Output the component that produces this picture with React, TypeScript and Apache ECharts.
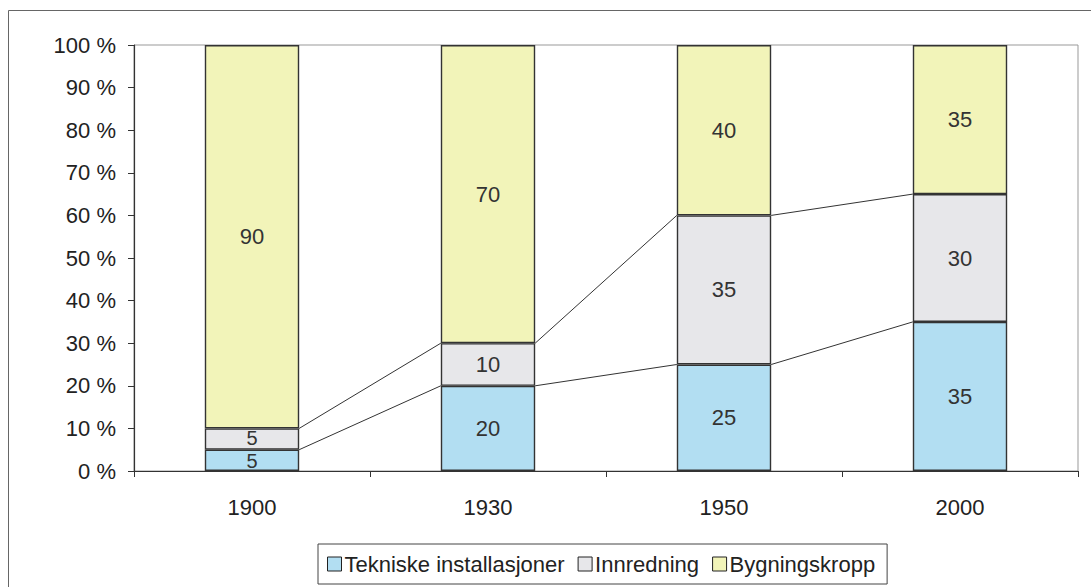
import React, { useEffect, useRef } from "react";
import * as echarts from "echarts";

const categories = ["1900", "1930", "1950", "2000"];
const tekniske = [5, 20, 25, 35];
const innredning = [5, 10, 35, 30];
const bygning = [90, 70, 40, 35];
const seriesNames = ["Tekniske installasjoner", "Innredning", "Bygningskropp"];
const colors = ["#b2def2", "#e7e7ea", "#f2f4b9"];

export default function App() {
  const ref = useRef<HTMLDivElement>(null);
  useEffect(() => {
    if (!ref.current) return;
    const chart = echarts.init(ref.current, undefined, { renderer: "svg" });
    const font = "Liberation Sans, Arial, sans-serif";
    const level1 = tekniske;
    const level2 = tekniske.map((v, i) => v + innredning[i]);
    const connData = categories.slice(0, -1).map((_, i) => [i, level1[i], level1[i + 1], level2[i], level2[i + 1]]);
    const barPct = 0.4;
    const mkBar = (name: string, data: number[], color: string, smallOffset: number) => ({
      name,
      type: "bar",
      stack: "total",
      barWidth: "40%",
      data: data.map((v) =>
        v < 8 ? { value: v, label: { fontSize: 20, lineHeight: 16, offset: [0, smallOffset] } } : v
      ),
      itemStyle: { color, borderColor: "#333", borderWidth: 1.4 },
      label: { show: true, position: "inside", fontSize: 22, lineHeight: 18, color: "#333", fontFamily: font },
      z: 3,
    });
    chart.setOption({
      animation: false,
      backgroundColor: "#fff",
      grid: { left: 134, right: 13, top: 45, bottom: 116, show: true, borderColor: "#999", borderWidth: 1 },
      graphic: [
        { type: "rect", shape: { x: 8.5, y: 10.5, width: 1100, height: 600 }, style: { fill: "none", stroke: "#666", lineWidth: 1 }, silent: true },
      ],
      legend: {
        left: 318,
        top: 544,
        padding: [9, 12, 9, 9],
        borderColor: "#444",
        borderWidth: 1,
        itemGap: 13,
        itemWidth: 14,
        itemHeight: 14,
        icon: "rect",
        itemStyle: { borderColor: "#222", borderWidth: 1 },
        textStyle: { fontSize: 22, color: "#222", fontFamily: font, padding: [0, 0, 0, -2] },
        data: seriesNames,
      },
      xAxis: {
        type: "category",
        data: categories,
        axisLine: { lineStyle: { color: "#333", width: 1.2 } },
        axisTick: { show: true, length: 6, lineStyle: { color: "#333" } },
        axisLabel: { fontSize: 22, color: "#222", margin: 25, fontFamily: font },
      },
      yAxis: {
        type: "value",
        min: 0,
        max: 100,
        interval: 10,
        axisLine: { show: true, lineStyle: { color: "#333", width: 1.2 } },
        axisTick: { show: true, length: 6, lineStyle: { color: "#333" } },
        splitLine: { show: false },
        axisLabel: { fontSize: 22, color: "#222", margin: 18, formatter: "{value} %", fontFamily: font },
      },
      series: [
        mkBar(seriesNames[0], tekniske, colors[0], 1),
        mkBar(seriesNames[1], innredning, colors[1], -1),
        mkBar(seriesNames[2], bygning, colors[2], 0),
        {
          type: "custom",
          silent: true,
          z: 2,
          data: connData,
          encode: { x: 0, y: [1, 2, 3, 4] },
          renderItem: (params: any, api: any) => {
            const i = api.value(0);
            const band = api.size([1, 0])[0];
            const half = (band * barPct) / 2;
            const children: any[] = [];
            [[1, 2], [3, 4]].forEach(([a, b]) => {
              const p0 = api.coord([i, api.value(a)]);
              const p1 = api.coord([i + 1, api.value(b)]);
              children.push({
                type: "line",
                shape: { x1: p0[0] + half, y1: p0[1], x2: p1[0] - half, y2: p1[1] },
                style: { stroke: "#333", lineWidth: 1 },
              });
            });
            return { type: "group", children };
          },
        },
      ],
    });
    return () => chart.dispose();
  }, []);
  return <div ref={ref} style={{ position: "fixed", left: 0, top: 0, width: 1091, height: 587 }} />;
}
